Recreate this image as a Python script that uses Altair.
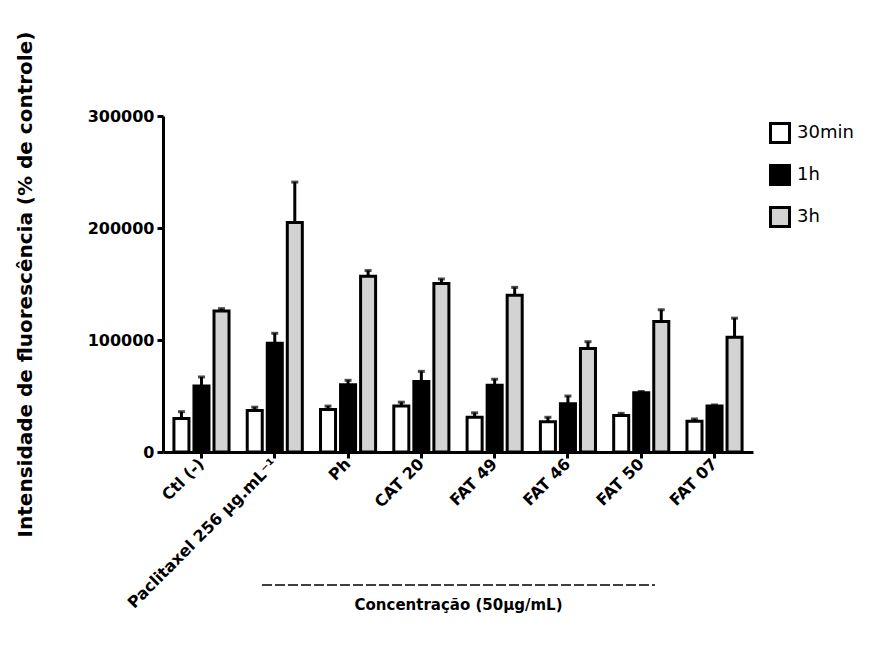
import altair as alt
import pandas as pd

categories = ["Ctl (-)", "Paclitaxel 256 µg.mL⁻¹", "Ph", "CAT 20", "FAT 49", "FAT 46", "FAT 50", "FAT 07"]
series = ["30min", "1h", "3h"]
mean_30min = [30000, 37000, 38000, 41000, 31000, 27000, 32500, 27500]
mean_1h = [59000, 97000, 60000, 63000, 59500, 43000, 53000, 41000]
mean_3h = [126000, 205000, 157000, 150500, 140000, 92500, 116500, 102500]
err_30min = [6000, 3000, 3000, 3500, 4000, 4000, 2000, 2000]
err_1h = [8000, 9000, 4000, 9000, 5500, 7000, 1000, 1000]
err_3h = [2000, 36000, 5000, 4000, 7000, 6000, 10500, 17000]
colors = ["#ffffff", "#000000", "#d3d3d3"]

rows = []
for s, means, errs in zip(series, [mean_30min, mean_1h, mean_3h], [err_30min, err_1h, err_3h]):
    for c, m, e in zip(categories, means, errs):
        rows.append({"cat": c, "serie": s, "mean": m, "top": m + e})
df = pd.DataFrame(rows)

FONT = "DejaVu Sans"

xenc = alt.X("cat:N", sort=categories,
             scale=alt.Scale(paddingInner=0.18, paddingOuter=0.115),
             axis=alt.Axis(title="Concentração (50µg/mL)", labelAngle=-45,
                           labelFontSize=16, labelFontWeight="bold", labelFont=FONT,
                           labelColor="black", labelPadding=3, labelLimit=400,
                           domainColor="black", domainWidth=3,
                           tickColor="black", tickWidth=3, tickSize=6,
                           titleFontSize=15, titleFontWeight="bold", titleFont=FONT,
                           titleColor="black", titleY=145, titleBaseline="top"))
xoff = alt.XOffset("serie:N", sort=series,
                   scale=alt.Scale(paddingInner=0.25, paddingOuter=0.125))
yscale = alt.Scale(domain=[0, 300000], nice=False)

bars = alt.Chart(df).mark_bar(stroke="black", strokeWidth=3).encode(
    x=xenc,
    xOffset=xoff,
    y=alt.Y("mean:Q", scale=yscale,
            axis=alt.Axis(title="Intensidade de fluorescência (% de controle)",
                          values=[0, 100000, 200000, 300000], format="d",
                          labelFontSize=16, labelFontWeight="bold", labelFont=FONT,
                          labelColor="black", labelPadding=3,
                          domainColor="black", domainWidth=3,
                          tickColor="black", tickWidth=3, tickSize=6, grid=False,
                          titleFontSize=20, titleFontWeight="bold", titleFont=FONT,
                          titleColor="black", titleX=-128, titleLimit=700)),
    fill=alt.Fill("serie:N", sort=series,
                  scale=alt.Scale(domain=series, range=colors),
                  legend=alt.Legend(title=None, orient="none", legendX=606, legendY=6,
                                    symbolType="square", symbolSize=361,
                                    symbolStrokeColor="black", symbolStrokeWidth=3,
                                    symbolOpacity=1,
                                    labelFontSize=18, labelFont=FONT, labelColor="black",
                                    labelOffset=6, rowPadding=10)),
)

rules = alt.Chart(df).mark_rule(color="black", strokeWidth=3).encode(
    x=alt.X("cat:N", sort=categories), xOffset=xoff,
    y=alt.Y("mean:Q", scale=yscale), y2="top:Q")

caps = alt.Chart(df).mark_tick(color="black", thickness=3, size=7, orient="horizontal").encode(
    x=alt.X("cat:N", sort=categories), xOffset=xoff,
    y=alt.Y("top:Q", scale=yscale))

dash = alt.Chart(alt.Data(values=[{"a": 1}])).mark_rule(
    color="black", strokeWidth=1.5, strokeDash=[10, 3]).encode(
    x=alt.value(99), x2=alt.value(492), y=alt.value(469))

chart = alt.layer(rules, caps, bars, dash).properties(
    width=590, height=336,
    autosize=alt.AutoSizeParams(type="none"),
    padding={"left": 163, "top": 116, "right": 129, "bottom": 197},
).configure(font=FONT, background="white").configure_view(stroke=None)

chart.save("out.html", embed_options={"renderer": "svg", "actions": False})
